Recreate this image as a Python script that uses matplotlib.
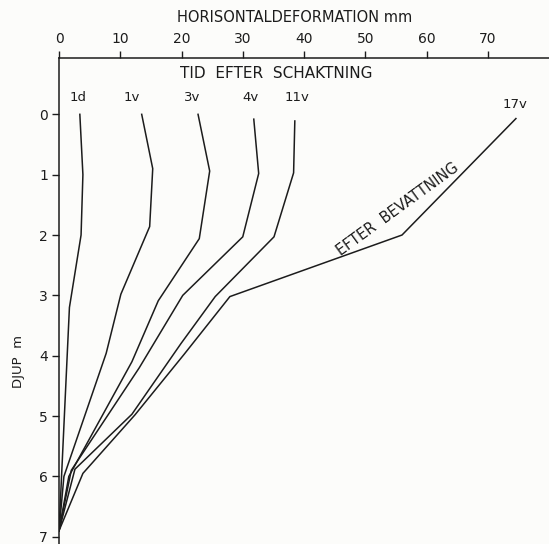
import matplotlib
matplotlib.use('Agg')
import matplotlib.pyplot as plt

# horizontal deformation (mm) against depth (m) for each time after excavation
labels = ['1d', '1v', '3v', '4v', '11v', '17v']
defo = [
    [3.4, 3.9, 3.6, 1.7, 0.0],
    [13.5, 15.3, 14.8, 10.1, 7.7, 0.8, 0.0],
    [22.7, 24.6, 22.9, 16.2, 11.9, 1.6, 0.0],
    [31.8, 32.6, 30.0, 20.2, 13.1, 2.0, 0.0],
    [38.5, 38.3, 35.1, 25.5, 19.9, 11.9, 2.6, 0.0],
    [74.6, 56.0, 27.9, 20.4, 12.4, 3.9, 0.0],
]
depth = [
    [0.0, 1.0, 2.0, 3.2, 6.9],
    [0.0, 0.9, 1.86, 2.98, 3.96, 6.0, 6.9],
    [0.0, 0.94, 2.06, 3.09, 4.1, 6.0, 6.9],
    [0.08, 0.98, 2.03, 3.0, 4.2, 5.9, 6.9],
    [0.11, 0.97, 2.03, 3.02, 3.8, 4.97, 5.88, 6.9],
    [0.07, 2.0, 3.02, 3.98, 4.98, 5.95, 6.9],
]
# where each curve label sits (mm, m)
label_x = [3.1, 11.9, 21.7, 31.2, 38.8, 74.5]
label_y = [-0.17, -0.17, -0.17, -0.17, -0.17, -0.05]

ink = '#1c1c1c'
paper = '#fcfcfa'

fig = plt.figure(figsize=(5.49, 5.44), dpi=100, facecolor=paper)
ax = fig.add_axes([0.1075, 0.0, 0.8925, 0.893])
ax.set_facecolor(paper)

for x, y in zip(defo, depth):
    ax.plot(x, y, color=ink, lw=1.1, solid_joinstyle='miter')

for lab, lx, ly in zip(labels, label_x, label_y):
    ax.text(lx, ly, lab, ha='center', va='bottom', fontsize=9.5, color=ink)

ax.text(35.5, -0.67, 'TID  EFTER  SCHAKTNING', ha='center', va='center',
        fontsize=11, color=ink)
ax.text(55.3, 1.58, 'EFTER  BEVATTNING', ha='center', va='center',
        fontsize=10.5, color=ink, rotation=36, rotation_mode='anchor')

ax.set_xlim(0, 80)
ax.set_ylim(7.12, -0.93)

ax.xaxis.tick_top()
ax.xaxis.set_label_position('top')
ax.set_xticks(range(0, 80, 10))
ax.set_yticks(range(0, 8))
ax.tick_params(axis='both', direction='out', length=5, width=1, colors=ink,
               labelsize=10, pad=3)
ax.tick_params(axis='x', pad=4)
ax.set_xlabel('HORISONTALDEFORMATION mm', fontsize=10.5, color=ink)
ax.xaxis.set_label_coords(0.48, 1.075)

for side in ['right', 'bottom']:
    ax.spines[side].set_visible(False)
for side in ['top', 'left']:
    ax.spines[side].set_color(ink)
    ax.spines[side].set_linewidth(1.1)

fig.text(0.033, 1 - 362 / 544, 'DJUP  m', rotation=90, ha='center',
         va='center', fontsize=9.5, color=ink)

fig.savefig('out.png', dpi=100, facecolor=paper)
